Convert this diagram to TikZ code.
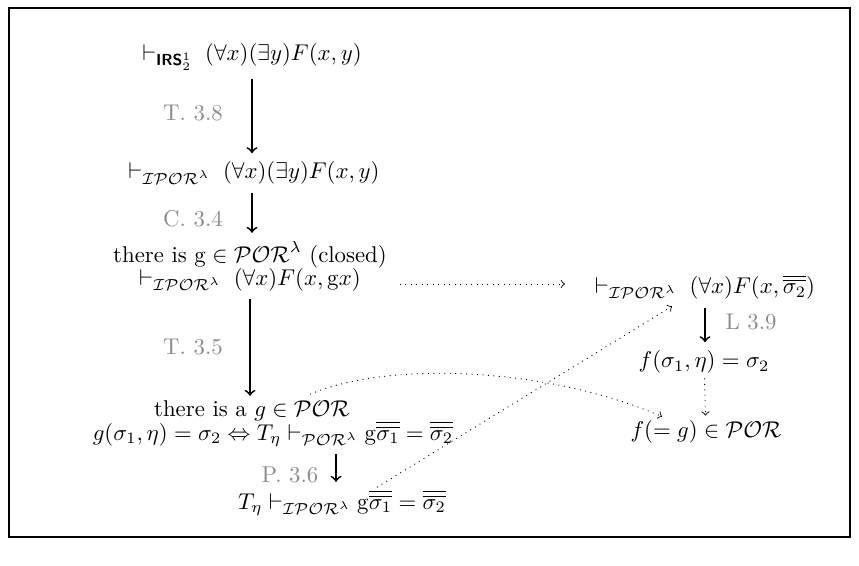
\documentclass[tikz,border=0pt]{standalone}
\usepackage{amsmath}
\usetikzlibrary{calc}
\begin{document}
\begin{tikzpicture}[x=0.4386pt,y=-0.4386pt,
  txt/.style={inner sep=2pt},
  tight/.style={inner sep=0.5pt},
  lab/.style={inner sep=1pt,text=black!45},
  arr/.style={->,line width=0.8pt,shorten >=1.5pt,shorten <=1.5pt},
  dots/.style={->,dotted,line width=0.4pt}]
\useasboundingbox (0,0) rectangle (859,566);
\draw[line width=0.9pt] (9,8) rectangle (850,537);
\node[txt] (n1) at (252,57) {$\vdash_{\text{\sffamily\bfseries IRS}^1_2}\; (\forall x)(\exists y)F(x,y)$};
\node[txt] (n2) at (254,173) {$\vdash_{\mathcal{IPOR}^\lambda}\; (\forall x)(\exists y)F(x,y)$};
\node[txt,align=center] (n3) at (250,266) {there is $\mathrm{g}\in\mathcal{POR}^\lambda$ (closed)\\[-2pt] $\vdash_{\mathcal{IPOR}^\lambda}\; (\forall x)F(x,\mathrm{g}x)$};
\node[tight] (n4a) at (252,411) {there is a $g\in\mathcal{POR}$};
\node[tight] (n4b) at (273,434) {$g(\sigma_1,\eta)=\sigma_2\Leftrightarrow T_\eta\vdash_{\mathcal{POR}^\lambda}\mathrm{g}\overline{\overline{\sigma_1}}=\overline{\overline{\sigma_2}}$};
\node[txt] (n5) at (342,503) {$T_\eta\vdash_{\mathcal{IPOR}^\lambda}\mathrm{g}\overline{\overline{\sigma_1}}=\overline{\overline{\sigma_2}}$};
\node[txt] (r1) at (705,287) {$\vdash_{\mathcal{IPOR}^\lambda}\; (\forall x)F(x,\overline{\overline{\sigma_2}})$};
\node[txt] (r2) at (704,362) {$f(\sigma_1,\eta)=\sigma_2$};
\node[txt] (r3) at (706,432) {$f(=g)\in\mathcal{POR}$};
\node[lab] (l1) at (193,113) {T. 3.8};
\node[lab] (l2) at (193,219) {C. 3.4};
\node[lab] (l3) at (193,347) {T. 3.5};
\node[lab] (l4) at (290,475) {P. 3.6};
\node[lab] (l5) at (751,322) {L 3.9};
\draw[arr] (n1.south) -- (n1.south |- n2.north);
\draw[arr] (n1.south |- n2.south) -- (n1.south |- n3.north);
\draw[arr] (n3.south) -- (n3.south |- n4a.north);
\draw[arr] ($(n4b.south -| n5.north)+(-6,2)$) -- ($(n5.north)+(-6,0)$);
\draw[arr] (r1.south) -- (r1.south |- r2.north);
\draw[dots] (r2) -- (r3);
\draw[dots] ($(r1.west)+(-190,-3)$) -- ($(r1.west)+(-25,-3)$);
\draw[dots] ($(n4a.north)+(58,-5)$) .. controls (390,360) and (550,368) .. ($(r3.north)+(-44,1)$);
\draw[dots] ($(n5.north)+(35,2)$) -- ($(r1.south)+(-33,2)$);
\end{tikzpicture}
\end{document}
